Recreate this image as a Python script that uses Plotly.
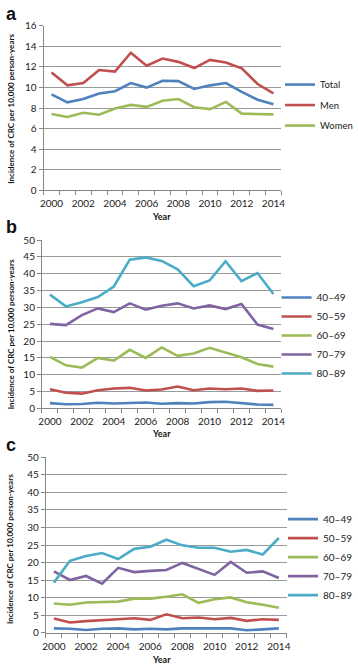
import plotly.graph_objects as go

years = list(range(2000, 2015))

# Panel a: by sex
total = [9.32, 8.55, 8.87, 9.41, 9.63, 10.42, 9.98, 10.65, 10.61, 9.85, 10.2, 10.42, 9.57, 8.8, 8.36]
men = [11.44, 10.2, 10.42, 11.69, 11.53, 13.37, 12.1, 12.8, 12.48, 11.88, 12.67, 12.42, 11.85, 10.33, 9.41]
women = [7.41, 7.13, 7.54, 7.35, 7.95, 8.3, 8.11, 8.71, 8.87, 8.08, 7.89, 8.59, 7.45, 7.41, 7.38]

# Panel b: men by age group
b_40_49 = [1.55, 1.2, 1.3, 1.65, 1.45, 1.65, 1.75, 1.35, 1.55, 1.45, 1.85, 1.95, 1.55, 1.15, 1.05]
b_50_59 = [5.7, 4.66, 4.37, 5.4, 5.9, 6.1, 5.3, 5.6, 6.5, 5.4, 5.9, 5.7, 5.9, 5.2, 5.3]
b_60_69 = [15.3, 12.8, 12.1, 15.0, 14.2, 17.4, 15.0, 18.1, 15.6, 16.3, 18.0, 16.6, 15.2, 13.2, 12.4]
b_70_79 = [25.1, 24.75, 27.7, 29.7, 28.6, 31.2, 29.3, 30.5, 31.2, 29.7, 30.6, 29.5, 31.0, 24.9, 23.6]
b_80_89 = [33.8, 30.3, 31.55, 33.1, 36.2, 44.2, 44.85, 43.8, 41.3, 36.3, 38.0, 43.7, 37.8, 40.2, 34.0]

# Panel c: women by age group
c_40_49 = [1.3, 1.2, 0.84, 1.2, 1.3, 1.0, 1.2, 1.0, 1.3, 1.2, 1.3, 1.3, 0.74, 1.0, 1.3]
c_50_59 = [4.1, 2.97, 3.35, 3.53, 3.9, 4.18, 3.7, 5.3, 4.18, 4.37, 3.9, 4.28, 3.44, 3.9, 3.7]
c_60_69 = [8.36, 8.0, 8.64, 8.74, 8.9, 9.75, 9.75, 10.3, 11.0, 8.55, 9.57, 10.1, 8.74, 8.0, 7.16]
c_70_79 = [17.5, 15.05, 16.2, 14.0, 18.5, 17.3, 17.65, 17.9, 19.9, 18.3, 16.5, 20.2, 17.1, 17.5, 15.6]
c_80_89 = [14.3, 20.5, 21.9, 22.7, 21.0, 23.9, 24.5, 26.5, 24.9, 24.2, 24.2, 23.1, 23.6, 22.3, 27.0]

sex_names = ["Total", "Men", "Women"]
age_names = ["40\u201349", "50\u201359", "60\u201369", "70\u201379", "80\u201389"]
x_ticks = [2000, 2002, 2004, 2006, 2008, 2010, 2012, 2014]
y_title = "Incidence of CRC per 10,000 person-years"

BLUE, RED, GREEN, PURPLE, CYAN = "#4F81BD", "#C0504D", "#9BBB59", "#8064A2", "#4BACC6"
FONT = "Lato, Liberation Sans, sans-serif"
W, H = 358, 670

fig = go.Figure()

def add(y, name, color, xa, ya, legend, group):
    fig.add_trace(go.Scatter(x=years, y=y, name=name, mode="lines",
                             line=dict(color=color, width=2.6),
                             xaxis=xa, yaxis=ya, legend=legend, legendgroup=group))

for y, n, c in zip([total, men, women], sex_names, [BLUE, RED, GREEN]):
    add(y, n, c, "x", "y", "legend", "a" + n)
for y, n, c in zip([b_40_49, b_50_59, b_60_69, b_70_79, b_80_89], age_names, [BLUE, RED, GREEN, PURPLE, CYAN]):
    add(y, n, c, "x2", "y2", "legend2", "b" + n)
for y, n, c in zip([c_40_49, c_50_59, c_60_69, c_70_79, c_80_89], age_names, [BLUE, RED, GREEN, PURPLE, CYAN]):
    add(y, n, c, "x3", "y3", "legend3", "c" + n)

def px_x(p):
    return p / W

def px_y(p):
    return 1 - p / H

def xaxis(left, right):
    return dict(domain=[px_x(left), px_x(right)], range=[1999.5, 2014.5],
                tickmode="array", tickvals=x_ticks, ticks="outside", ticklen=4,
                tickcolor="rgba(0,0,0,0)", showgrid=False, zeroline=False,
                showline=True, linecolor="#868686", linewidth=1,
                tickfont=dict(family=FONT, size=10, color="#222"),
                minor=dict(ticks="outside", tick0=1999.5, dtick=1, ticklen=4,
                           tickcolor="#868686", showgrid=False),
                fixedrange=True)

def yaxis(top, bottom, ymax, dt, anchor):
    return dict(domain=[px_y(bottom), px_y(top)], range=[0, ymax], dtick=dt,
                anchor=anchor, ticks="outside", ticklen=4, tickcolor="#868686",
                showgrid=True, gridcolor="#9a9a9a", gridwidth=1, zeroline=False,
                showline=True, linecolor="#868686", linewidth=1,
                tickfont=dict(family=FONT, size=10, color="#222"), fixedrange=True)

def legend(xp, ymid, gap, size):
    return dict(x=px_x(xp), y=px_y(ymid), xanchor="left", yanchor="middle",
                bgcolor="rgba(0,0,0,0)", font=dict(family=FONT, size=size, color="#222"),
                traceorder="grouped", tracegroupgap=gap, itemwidth=30, borderwidth=0)

fig.update_layout(
    width=W, height=H, margin=dict(l=0, r=0, t=0, b=0),
    paper_bgcolor="white", plot_bgcolor="white",
    xaxis=dict(xaxis(41, 287), anchor="y"),
    yaxis=yaxis(19, 187, 16, 2, "x"),
    xaxis2=dict(xaxis(39.3, 287), anchor="y2"),
    yaxis2=yaxis(237.7, 409.3, 50, 5, "x2"),
    xaxis3=dict(xaxis(43.3, 292.7), anchor="y3"),
    yaxis3=yaxis(459, 638.3, 50, 5, "x3"),
    legend=legend(286, 100, 1.5, 9.5),
    legend2=legend(282, 335, 0, 10),
    legend3=legend(289, 561, 0, 10),
    showlegend=True,
)

annots = []
for letter, ypx in [("a", 7), ("b", 224), ("c", 447)]:
    annots.append(dict(text="<b>" + letter + "</b>", x=px_x(0), y=px_y(ypx), xref="paper", yref="paper",
                       xanchor="left", yanchor="middle", showarrow=False,
                       font=dict(family="Liberation Sans, sans-serif", size=18, color="#111")))
for ypx in [104, 334, 553]:
    annots.append(dict(text="<b>" + y_title + "</b>", x=px_x(7), y=px_y(ypx), xref="paper", yref="paper",
                       xanchor="center", yanchor="middle", textangle=-90, showarrow=False,
                       font=dict(family=FONT, size=8, color="#111")))
for ypx in [214, 435, 665]:
    annots.append(dict(text="<b>Year</b>", x=px_x(163), y=px_y(ypx), xref="paper", yref="paper",
                       xanchor="center", yanchor="middle", showarrow=False,
                       font=dict(family=FONT, size=9, color="#111")))
fig.update_layout(annotations=annots)

fig.write_html("out.html", config={"displayModeBar": False},
               post_script="document.body.style.margin='0';document.body.style.overflow='hidden';")
